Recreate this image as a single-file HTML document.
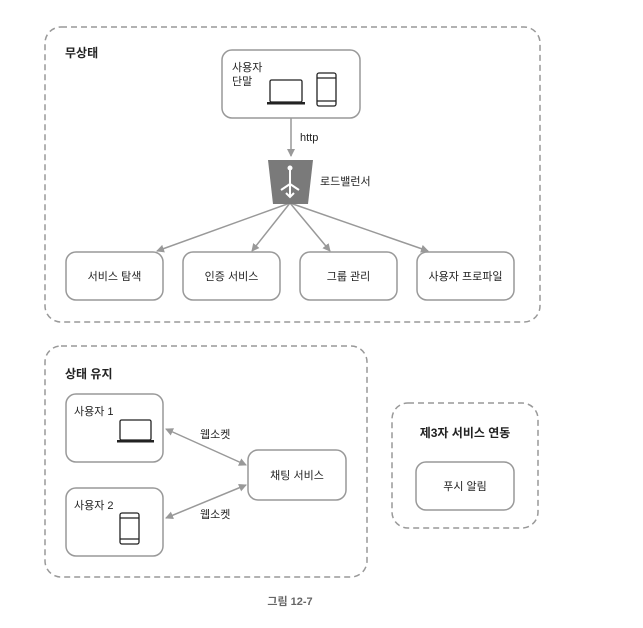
<!DOCTYPE html>
<html><head><meta charset="utf-8"><style>
body{margin:0;background:#fff}
text{font-family:"Liberation Sans","Noto Sans CJK KR",sans-serif;fill:#222}
</style></head><body>
<svg width="643" height="623" viewBox="0 0 643 623" xmlns="http://www.w3.org/2000/svg">
<defs><marker id="a" markerWidth="8" markerHeight="8" refX="7" refY="4" orient="auto-start-reverse" markerUnits="userSpaceOnUse"><path d="M0,0 L8,4 L0,8 z" fill="#999"/></marker></defs>
<g fill="none" stroke="#999" stroke-width="1.5" stroke-dasharray="6,4">
<rect x="45" y="27" width="495" height="295" rx="16"/>
<rect x="45" y="346" width="322" height="231" rx="16"/>
<rect x="392" y="403" width="146" height="125" rx="16"/>
</g>
<g fill="#fff" stroke="#999" stroke-width="1.5">
<rect x="222" y="50" width="138" height="68" rx="10"/>
<rect x="66" y="252" width="97" height="48" rx="10"/>
<rect x="183" y="252" width="97" height="48" rx="10"/>
<rect x="300" y="252" width="97" height="48" rx="10"/>
<rect x="417" y="252" width="97" height="48" rx="10"/>
<rect x="66" y="394" width="97" height="68" rx="10"/>
<rect x="66" y="488" width="97" height="68" rx="10"/>
<rect x="248" y="450" width="98" height="50" rx="10"/>
<rect x="416" y="462" width="98" height="48" rx="10"/>
</g>
<g stroke="#999" stroke-width="1.5" fill="none">
<line x1="291" y1="118" x2="291" y2="156" marker-end="url(#a)"/>
<line x1="290" y1="203" x2="157" y2="251" marker-end="url(#a)"/>
<line x1="290" y1="203" x2="252" y2="251" marker-end="url(#a)"/>
<line x1="290" y1="203" x2="330" y2="251" marker-end="url(#a)"/>
<line x1="290" y1="203" x2="428" y2="251" marker-end="url(#a)"/>
<line x1="166" y1="429" x2="246" y2="465" marker-start="url(#a)" marker-end="url(#a)"/>
<line x1="166" y1="518" x2="246" y2="485" marker-start="url(#a)" marker-end="url(#a)"/>
</g>
<path d="M268,160 L313,160 L308,204 L273,204 z" fill="#7a7a7a"/>
<g stroke="#fff" stroke-width="2" fill="none"><line x1="290" y1="168" x2="290" y2="196"/><line x1="290" y1="184" x2="281" y2="190"/><line x1="290" y1="184" x2="299" y2="190"/><path d="M286,193 L290,197 L294,193"/></g>
<circle cx="290" cy="168" r="2.5" fill="#fff"/>
<!-- devices -->
<g fill="none" stroke="#222" stroke-width="1.3">
<rect x="270" y="80" width="32" height="22" rx="1.5"/>
<rect x="317" y="73" width="19" height="33" rx="2"/>
<line x1="317" y1="78" x2="336" y2="78"/><line x1="317" y1="101" x2="336" y2="101"/>
<rect x="120" y="420" width="31" height="20" rx="1.5"/>
<rect x="120" y="513" width="19" height="31" rx="2"/>
<line x1="120" y1="518" x2="139" y2="518"/><line x1="120" y1="539" x2="139" y2="539"/>
</g>
<rect x="267" y="102" width="38" height="2.5" fill="#222"/>
<rect x="117" y="440" width="37" height="2.5" fill="#222"/>
<g font-size="11">
<text x="65" y="57" font-weight="bold" font-size="12">무상태</text>
<text x="232" y="71">사용자</text><text x="232" y="85">단말</text>
<text x="300" y="141">http</text>
<text x="320" y="185">로드밸런서</text>
<text x="114.5" y="280" text-anchor="middle">서비스 탐색</text>
<text x="231.5" y="280" text-anchor="middle">인증 서비스</text>
<text x="348.5" y="280" text-anchor="middle">그룹 관리</text>
<text x="465.5" y="280" text-anchor="middle">사용자 프로파일</text>
<text x="65" y="378" font-weight="bold" font-size="12">상태 유지</text>
<text x="74" y="415">사용자 1</text>
<text x="74" y="509">사용자 2</text>
<text x="200" y="438">웹소켓</text>
<text x="200" y="518">웹소켓</text>
<text x="297" y="479" text-anchor="middle">채팅 서비스</text>
<text x="465" y="437" text-anchor="middle" font-weight="bold" font-size="12">제3자 서비스 연동</text>
<text x="465" y="490" text-anchor="middle">푸시 알림</text>
<text x="290" y="605" text-anchor="middle" font-weight="bold" style="fill:#666">그림 12-7</text>
</g>
</svg>
</body></html>
